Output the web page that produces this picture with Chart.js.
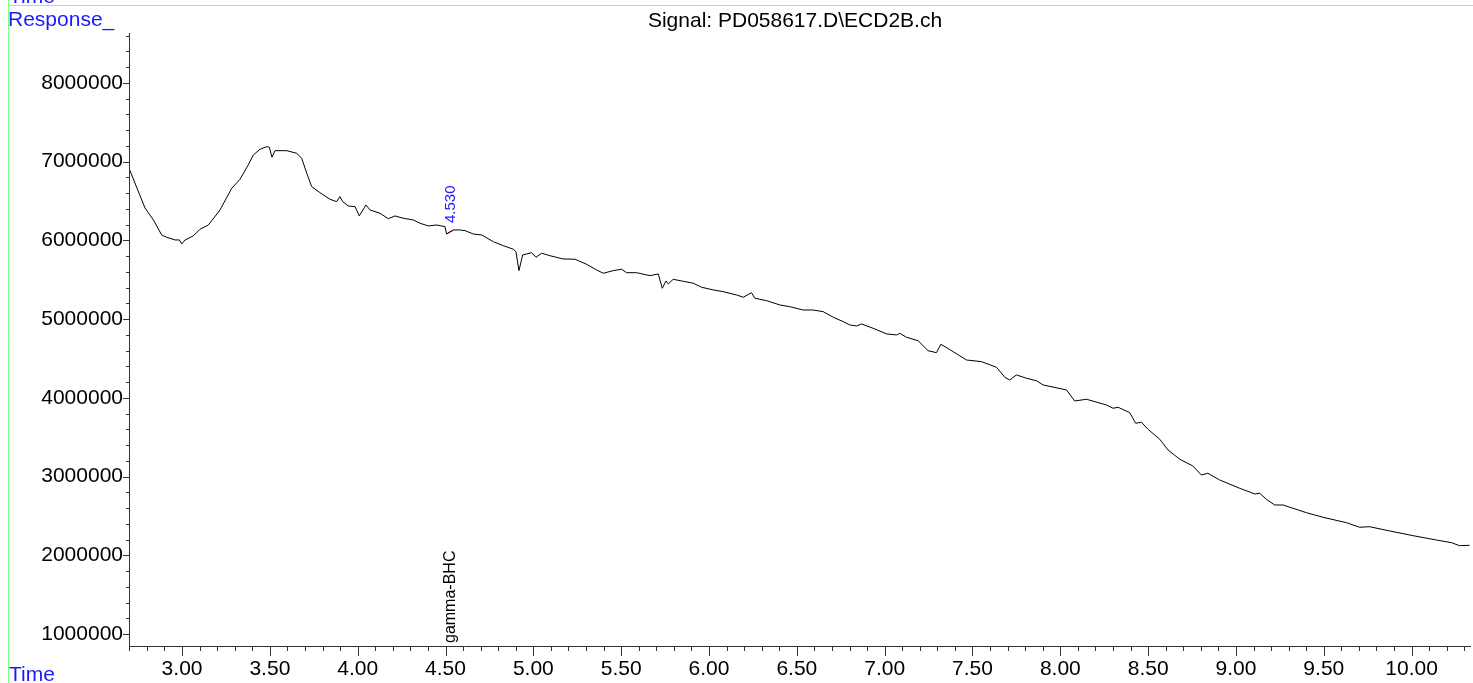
<!DOCTYPE html>
<html>
<head>
<meta charset="utf-8">
<script src="https://cdn.jsdelivr.net/npm/chart.js@4"></script>
<style>
  html, body { margin: 0; padding: 0; background: #fff; }
  #wrap { width: 1473px; height: 683px; position: relative; }
</style>
</head>
<body>
<div id="wrap"><canvas id="ecdChart"></canvas></div>
<script>
// retention time (min) and detector response
const retentionTimes = [2.698, 2.789, 2.837, 2.884, 2.913, 2.960, 2.985, 2.998, 3.017, 3.064,
  3.102, 3.150, 3.216, 3.283, 3.330, 3.377, 3.406, 3.444, 3.482, 3.497,
  3.512, 3.529, 3.596, 3.653, 3.681, 3.710, 3.738, 3.785, 3.842, 3.880,
  3.899, 3.915, 3.946, 3.985, 4.009, 4.047, 4.070, 4.127, 4.174, 4.212,
  4.259, 4.316, 4.355, 4.402, 4.450, 4.497, 4.506, 4.544, 4.582, 4.611,
  4.658, 4.706, 4.772, 4.829, 4.886, 4.901, 4.918, 4.939, 4.990, 5.015,
  5.047, 5.094, 5.170, 5.237, 5.303, 5.360, 5.398, 5.455, 5.502, 5.531,
  5.588, 5.664, 5.711, 5.734, 5.755, 5.768, 5.796, 5.853, 5.910, 5.958,
  6.024, 6.081, 6.157, 6.195, 6.242, 6.261, 6.328, 6.403, 6.460, 6.536,
  6.593, 6.650, 6.707, 6.764, 6.802, 6.840, 6.868, 6.934, 7.011, 7.068,
  7.086, 7.124, 7.190, 7.247, 7.295, 7.320, 7.390, 7.466, 7.551, 7.637,
  7.684, 7.712, 7.750, 7.807, 7.864, 7.902, 8.035, 8.082, 8.149, 8.263,
  8.300, 8.329, 8.395, 8.429, 8.462, 8.499, 8.566, 8.613, 8.680, 8.755,
  8.803, 8.840, 8.907, 9.021, 9.107, 9.135, 9.173, 9.220, 9.268, 9.401,
  9.495, 9.629, 9.704, 9.761, 9.875, 10.008, 10.141, 10.227, 10.273, 10.330];

const responses = [6917000, 6412000, 6260000, 6069000, 6040000, 6006000, 6006000, 5955000, 6006000, 6057000,
  6142000, 6196000, 6387000, 6663000, 6777000, 6959000, 7086000, 7158000, 7191000, 7183000,
  7057000, 7140000, 7140000, 7107000, 7044000, 6853000, 6683000, 6607000, 6523000, 6492000,
  6556000, 6492000, 6438000, 6429000, 6311000, 6450000, 6387000, 6345000, 6276000, 6311000,
  6282000, 6260000, 6218000, 6184000, 6196000, 6175000, 6082000, 6133000, 6133000, 6124000,
  6082000, 6069000, 5984000, 5933000, 5888000, 5857000, 5616000, 5815000, 5844000, 5786000,
  5837000, 5806000, 5764000, 5761000, 5697000, 5625000, 5583000, 5616000, 5634000, 5590000,
  5590000, 5552000, 5574000, 5392000, 5485000, 5447000, 5506000, 5481000, 5456000, 5405000,
  5371000, 5349000, 5307000, 5278000, 5336000, 5265000, 5235000, 5180000, 5158000, 5116000,
  5116000, 5095000, 5024000, 4968000, 4926000, 4913000, 4939000, 4884000, 4812000, 4799000,
  4820000, 4770000, 4726000, 4599000, 4574000, 4681000, 4587000, 4481000, 4460000, 4388000,
  4261000, 4227000, 4291000, 4249000, 4218000, 4164000, 4100000, 3960000, 3982000, 3909000,
  3868000, 3880000, 3812000, 3677000, 3690000, 3601000, 3474000, 3338000, 3220000, 3134000,
  3020000, 3042000, 2957000, 2851000, 2779000, 2788000, 2711000, 2639000, 2639000, 2541000,
  2483000, 2414000, 2356000, 2363000, 2309000, 2249000, 2194000, 2160000, 2122000, 2127000];

// integration baseline of the gamma-BHC peak
const peakBaseTimes = [4.506, 4.545];
const peakBaseResponses = [6082000, 6128000];

const peakRT = 4.530;
const peakRTLabel = '4.530';
const compoundName = 'gamma-BHC';
const signalTitle = 'Signal: PD058617.D\\ECD2B.ch';

const xMin = 2.698, xMax = 10.338;
const yMin = 847500, yMax = 8635000;
const xMinorStep = 0.1, xMajorStep = 0.5;
const yMinorStep = 200000, yMajorStep = 1000000;

const FONT = '"Liberation Sans", Arial, sans-serif';
const BLUE = '#1a1aff';

function isStep(v, step) {
  const r = v / step;
  return Math.abs(r - Math.round(r)) < 1e-6;
}

// tick values on the minor grid between the axis limits
function stepTicks(scale, step) {
  const out = [];
  const first = Math.ceil(scale.min / step - 1e-9);
  const last = Math.floor(scale.max / step + 1e-9);
  for (let k = first; k <= last; k++) out.push({ value: +(k * step).toFixed(6) });
  scale.ticks = out;
}

// axis lines, major/minor ticks, frame and annotation texts
const chromPlugin = {
  id: 'chromDecor',
  afterDraw(chart) {
    const ctx = chart.ctx;
    const xs = chart.scales.x, ys = chart.scales.y;
    const area = chart.chartArea;
    ctx.save();

    // green frame
    ctx.strokeStyle = '#80ff80';
    ctx.lineWidth = 1;
    ctx.beginPath();
    ctx.moveTo(8.5, 0); ctx.lineTo(8.5, chart.height);
    ctx.moveTo(8, 5.5); ctx.lineTo(chart.width, 5.5);
    ctx.stroke();

    // axes
    ctx.strokeStyle = '#333';
    ctx.lineWidth = 1;
    ctx.beginPath();
    ctx.moveTo(area.left + 0.5, area.top);
    ctx.lineTo(area.left + 0.5, area.bottom + 0.5);
    ctx.moveTo(area.left, area.bottom + 0.5);
    ctx.lineTo(area.right, area.bottom + 0.5);
    xs.ticks.forEach(t => {
      const px = Math.round(xs.getPixelForValue(t.value)) + 0.5;
      const len = isStep(t.value, xMajorStep) ? 10 : 5;
      ctx.moveTo(px, area.bottom);
      ctx.lineTo(px, area.bottom + len);
    });
    ys.ticks.forEach(t => {
      const py = Math.round(ys.getPixelForValue(t.value)) + 0.5;
      const len = isStep(t.value, yMajorStep) ? 6 : 3;
      ctx.moveTo(area.left, py);
      ctx.lineTo(area.left - len, py);
    });
    ctx.stroke();

    // corner labels and title
    ctx.font = '21px ' + FONT;
    ctx.fillStyle = BLUE;
    ctx.textAlign = 'left';
    ctx.textBaseline = 'alphabetic';
    ctx.fillText('Time', 9, 3);
    ctx.fillText('Response_', 8, 26);
    ctx.fillText('Time', 9, 681);
    ctx.fillStyle = '#000';
    ctx.textAlign = 'center';
    ctx.fillText(signalTitle, 795, 27);

    // peak annotations
    const pk = xs.getPixelForValue(peakRT);
    ctx.textAlign = 'left';
    ctx.save();
    ctx.translate(pk + 4, 223);
    ctx.rotate(-Math.PI / 2);
    ctx.font = '15px ' + FONT;
    ctx.fillStyle = BLUE;
    ctx.fillText(peakRTLabel, 0, 0);
    ctx.restore();
    ctx.save();
    ctx.translate(pk + 4, 643);
    ctx.rotate(-Math.PI / 2);
    ctx.font = '16px ' + FONT;
    ctx.fillStyle = '#000';
    ctx.fillText(compoundName, 0, 0);
    ctx.restore();

    ctx.restore();
  }
};

const ctx = document.getElementById('ecdChart').getContext('2d');
new Chart(ctx, {
  type: 'line',
  data: {
    datasets: [{
      data: retentionTimes.map((t, i) => ({ x: t, y: responses[i] })),
      borderColor: '#000',
      borderWidth: 1,
      pointRadius: 0,
      tension: 0,
      fill: false
    }, {
      data: peakBaseTimes.map((t, i) => ({ x: t, y: peakBaseResponses[i] })),
      borderColor: '#ff0000',
      borderWidth: 1,
      pointRadius: 0,
      tension: 0,
      fill: false
    }]
  },
  options: {
    responsive: true,
    maintainAspectRatio: false,
    animation: false,
    events: [],
    layout: { padding: { top: 33, right: 2, left: 0, bottom: 0 } },
    plugins: { legend: { display: false }, tooltip: { enabled: false }, title: { display: false } },
    scales: {
      x: {
        type: 'linear',
        min: xMin,
        max: xMax,
        border: { display: false },
        grid: { display: false, drawTicks: false },
        afterBuildTicks: s => stepTicks(s, xMinorStep),
        afterFit: s => { s.height = 37; s.paddingLeft = 0; s.paddingRight = 0; },
        ticks: {
          autoSkip: false,
          maxRotation: 0,
          padding: 11,
          color: '#000',
          font: { family: FONT, size: 21 },
          callback: v => isStep(v, xMajorStep) ? v.toFixed(2) : ''
        }
      },
      y: {
        type: 'linear',
        min: yMin,
        max: yMax,
        border: { display: false },
        grid: { display: false, drawTicks: false },
        afterBuildTicks: s => stepTicks(s, yMinorStep),
        afterFit: s => { s.width = 129; s.paddingTop = 0; s.paddingBottom = 0; },
        ticks: {
          autoSkip: false,
          padding: 6,
          color: '#000',
          font: { family: FONT, size: 21 },
          callback: v => isStep(v, yMajorStep) ? String(Math.round(v)) : ''
        }
      }
    }
  },
  plugins: [chromPlugin]
});
</script>
</body>
</html>
